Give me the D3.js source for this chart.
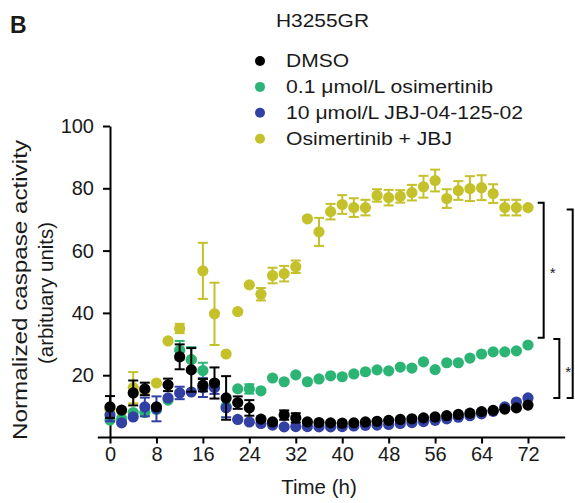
<!DOCTYPE html>
<html>
<head>
<meta charset="utf-8">
<script src="https://cdn.jsdelivr.net/npm/d3@7"></script>
<style>
  body { margin: 0; background: #fff; }
  text { font-family: "Liberation Sans", Arial, sans-serif; fill: #1a1a1a; }
</style>
</head>
<body>
<svg id="chart"></svg>
<script>
var width = 575;
var height = 503;

// time points (h), every 2 h
var times = [0,2,4,6,8,10,12,14,16,18,20,22,24,26,28,30,32,34,36,38,40,42,44,46,48,50,52,54,56,58,60,62,64,66,68,70,72];
var xTicks = [0, 8, 16, 24, 32, 40, 48, 56, 64, 72];
var yTicks = [20, 40, 60, 80, 100];

var seriesNames = ["DMSO", "0.1 \u03bcmol/L osimertinib", "10 \u03bcmol/L JBJ-04-125-02", "Osimertinib + JBJ"];
var seriesColors = ["#000000", "#2cb475", "#3340a3", "#c4c12b"];

var dmso = [9.8,8.8,14.3,15.6,9.8,16.9,25.9,21.7,16.8,17.5,12.7,11.2,9.5,5.9,5.0,7.2,6.3,5.0,4.8,4.7,4.6,4.7,5.0,5.2,5.5,5.8,6.0,6.3,6.6,7.0,7.4,7.8,8.3,8.7,9.1,9.5,10.4];
var dmsoErr = [3.5,0,4,2,0,2,4,7,2,5,7,2,2.5,0,0,1.5,1.5,0,0,0,0,0,0,0,0,0,0,0,0,0,0,0,0,0,0,0,0];

var osi = [5.6,6,8,8,9,12,28,25,21.5,17,10,15.6,15.6,15,19.1,17.9,20.1,17.9,18.8,19.8,19.5,20.4,21.1,21.7,21.4,22.6,22.3,24.3,21.8,24,24,25.5,26.8,27.5,27.5,27.8,29.7];
var osiErr = [0,0,0,0,0,0,3,4,2.5,0,0,0,1.5,0,0,0,0,0,0,0,0,0,0,0,0,0,0,0,0,0,0,0,0,0,0,0,0];

var jbj = [7.2,4.7,6.6,9.8,9.2,12.7,14.3,14.6,16,16,9.5,5.8,5.0,4.5,4.0,3.4,3.5,3.5,3.4,3.4,3.5,3.7,3.9,4.0,4.2,4.5,4.8,5.1,5.5,6.0,6.5,7.0,7.6,8.4,9.8,11.4,12.7];
var jbjErr = [2,0,0,3,4,0,2,0,3,2,3,0,0,0,0,0,0,0,0,0,0,0,0,0,0,0,0,0,0,0,0,0,0,0,0,0,0];

var combo = [9,8.5,16,15,17.5,31,35,25,53.5,39.7,26.8,40.4,49,46,52,52.6,54.8,70.2,66,72.5,74.8,73.8,73.8,77.7,77,77.4,78.6,80.5,82.5,76.7,79.3,79.9,80.2,78.3,73.8,73.8,73.8];
var comboErr = [0,0,5,0,0,0,1.5,0,9,10,0,0,0,2,2.5,2.5,2,0,4.5,2.5,3,3,2.5,2,2.5,2,2.5,3.5,3.5,3,3,4,4,3,2.5,2.5,0];

// significance brackets: [time position, from value, to value]
var brackets = [[74.7, 75.4, 32], [77.4, 31.6, 12.7], [79.7, 73.2, 12.7]];

var svg = d3.select("#chart")
    .attr("width", width)
    .attr("height", height);

var xScale = d3.scaleLinear()
    .domain([0, 72])
    .range([110, 528]);

var yScale = d3.scaleLinear()
    .domain([0, 100])
    .range([437.5, 126]);

// panel letter and title
svg.append("text").attr("x", 10).attr("y", 33)
  .style("font-size", "23px").style("font-weight", "bold").text("B");
svg.append("text").attr("x", 276).attr("y", 27)
  .attr("textLength", 93).attr("lengthAdjust", "spacingAndGlyphs")
  .style("font-size", "19px").text("H3255GR");

// legend
var legendWidths = [63, 207, 237, 166];
var legend = svg.selectAll(".legend")
  .data(seriesNames)
  .enter()
  .append("g")
  .attr("transform", function(d, i) { return "translate(260," + (61 + i * 25.9) + ")"; });
legend.append("circle").attr("r", 5)
  .attr("fill", function(d, i) { return seriesColors[i]; });
legend.append("text").attr("x", 26).attr("y", 6)
  .attr("textLength", function(d, i) { return legendWidths[i]; })
  .attr("lengthAdjust", "spacingAndGlyphs")
  .style("font-size", "18px").text(function(d) { return d; });

// axes
var yAxis = svg.append("g")
  .attr("transform", "translate(110,0)")
  .call(d3.axisLeft(yScale).tickValues(yTicks).tickSize(7).tickSizeOuter(0).tickPadding(9));

var xAxis = svg.append("g")
  .attr("transform", "translate(0," + yScale(0) + ")")
  .call(d3.axisBottom(xScale).tickValues(xTicks).tickSize(6).tickSizeOuter(0).tickPadding(3.5));
xAxis.select(".domain").remove();
xAxis.append("line")
  .attr("x1", xScale(-2.1)).attr("x2", xScale(78.4))
  .attr("stroke", "#000").attr("stroke-width", 2);

svg.selectAll(".tick line").attr("stroke", "#000").attr("stroke-width", 2);
yAxis.select(".domain").attr("stroke", "#000").attr("stroke-width", 2);
svg.selectAll(".tick text").style("font-size", "20px").attr("fill", "#1a1a1a")
  .style("font-family", "'Liberation Sans', Arial, sans-serif");

// axis titles
svg.append("text").attr("x", 319).attr("y", 494)
  .attr("text-anchor", "middle").style("font-size", "20.5px").text("Time (h)");
var yTitle = svg.append("text")
  .attr("transform", "translate(27,290) rotate(-90)")
  .attr("text-anchor", "middle").style("font-size", "21px");
yTitle.append("tspan").attr("x", 0).attr("y", 0)
  .attr("textLength", 300).attr("lengthAdjust", "spacingAndGlyphs")
  .text("Normalized caspase activity");
yTitle.append("tspan").attr("x", -3).attr("y", 25.5)
  .attr("textLength", 142).attr("lengthAdjust", "spacingAndGlyphs")
  .text("(arbituary units)");

// series, drawn back to front
var series = [
  { vals: combo, errs: comboErr, color: seriesColors[3] },
  { vals: osi, errs: osiErr, color: seriesColors[1] },
  { vals: jbj, errs: jbjErr, color: seriesColors[2] },
  { vals: dmso, errs: dmsoErr, color: seriesColors[0] }
];

series.forEach(function(s) {
  var pts = times.map(function(t, i) { return { t: t, v: s.vals[i], e: s.errs[i] }; });
  var g = svg.append("g");
  var withErr = pts.filter(function(d) { return d.e > 0; });
  var eb = g.selectAll(".err").data(withErr).enter().append("g")
    .attr("stroke", s.color).attr("stroke-width", 2);
  eb.append("line")
    .attr("x1", function(d) { return xScale(d.t); })
    .attr("x2", function(d) { return xScale(d.t); })
    .attr("y1", function(d) { return yScale(d.v - d.e); })
    .attr("y2", function(d) { return yScale(d.v + d.e); });
  [1, -1].forEach(function(sign) {
    eb.append("line")
      .attr("x1", function(d) { return xScale(d.t) - 5; })
      .attr("x2", function(d) { return xScale(d.t) + 5; })
      .attr("y1", function(d) { return yScale(d.v + sign * d.e); })
      .attr("y2", function(d) { return yScale(d.v + sign * d.e); });
  });
  g.selectAll("circle").data(pts).enter().append("circle")
    .attr("cx", function(d) { return xScale(d.t); })
    .attr("cy", function(d) { return yScale(d.v); })
    .attr("r", 5.6)
    .attr("fill", s.color);
});

// significance brackets
brackets.forEach(function(b, i) {
  var bx = xScale(b[0]);
  svg.append("path")
    .attr("d", "M" + (bx - 6) + "," + yScale(b[1]) + "H" + bx + "V" + yScale(b[2]) + "H" + (bx - 6))
    .attr("fill", "none").attr("stroke", "#000").attr("stroke-width", 2);
  if (i < 2) {
    svg.append("text")
      .attr("x", bx + 6)
      .attr("y", yScale((b[1] + b[2]) / 2) + 8)
      .style("font-size", "15px").text("*");
  }
});
</script>
</body>
</html>
